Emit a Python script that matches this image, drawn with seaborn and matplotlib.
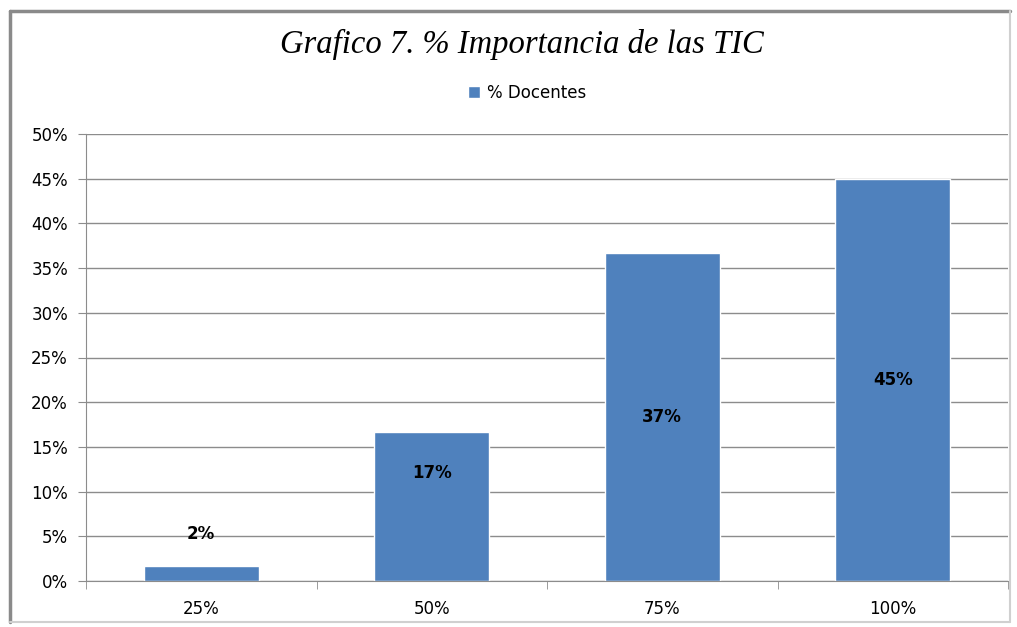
import pandas as pd
import matplotlib.pyplot as plt
from matplotlib.lines import Line2D
from matplotlib.ticker import FuncFormatter, FixedLocator
import seaborn as sns

# Chart data
categorias = ['25%', '50%', '75%', '100%']
docentes = [1.7, 16.7, 36.7, 45.0]
etiquetas = ['2%', '17%', '37%', '45%']

df = pd.DataFrame({'Importancia': categorias, '% Docentes': docentes})

sns.set_style('white')
plt.rcParams['font.family'] = ['DejaVu Sans']
plt.rcParams['text.color'] = 'black'

fig = plt.figure(figsize=(10.17, 6.27), dpi=100)
ax = fig.add_axes([86 / 1017, 1 - 581 / 627, (1008 - 86) / 1017, (581 - 134) / 627])

sns.barplot(data=df, x='Importancia', y='% Docentes', color='#4F81BD',
            width=0.5, saturation=1, ax=ax, label='% Docentes')

ax.set_ylim(0, 50)
ax.set_xlim(-0.5, len(categorias) - 0.5)
ax.yaxis.set_major_locator(FixedLocator(range(0, 51, 5)))
ax.yaxis.set_major_formatter(FuncFormatter(lambda v, p: f'{v:.0f}%'))
ax.grid(axis='y', color='#8c8c8c', linewidth=1)
ax.set_axisbelow(True)
ax.set_xlabel('')
ax.set_ylabel('')

for s in ['top', 'right']:
    ax.spines[s].set_visible(False)
ax.spines['left'].set_color('#8c8c8c')
ax.spines['bottom'].set_color('#8c8c8c')

ax.tick_params(axis='y', length=6, color='#8c8c8c', labelcolor='black',
               labelsize=12, pad=7, left=True)
ax.tick_params(axis='x', which='major', length=0, labelcolor='black', labelsize=12, pad=14)
ax.set_xticks([i - 0.5 for i in range(len(categorias) + 1)], minor=True)
ax.tick_params(axis='x', which='minor', length=6, color='#8c8c8c', bottom=True)

# data labels
for i, (v, t) in enumerate(zip(docentes, etiquetas)):
    if v < 5:
        y = v + 3.6
    elif v < 20:
        y = v - 4.6
    else:
        y = v / 2
    ax.text(i, y, t, ha='center', va='center', fontsize=12, fontweight='bold', color='black')

# legend
ax.legend(loc='center', bbox_to_anchor=(527 / 1017, 1 - 93 / 627),
          bbox_transform=fig.transFigure, frameon=False, fontsize=12,
          handlelength=0.75, handleheight=0.75, handletextpad=0.4)

fig.text(522 / 1017, 1 - 44 / 627, 'Grafico 7. % Importancia de las TIC',
         ha='center', va='center', fontsize=23.5, style='italic', color='black',
         family=['Liberation Serif', 'DejaVu Serif'])

# chart frame: darker top/left, lighter bottom/right
x0, x1 = 9.5 / 1017, 1010 / 1017
y0, y1 = 1 - 622 / 627, 1 - 10.5 / 627
fig.add_artist(Line2D([x0, x1], [y1, y1], transform=fig.transFigure, color='#8a8a8a', lw=2.5))
fig.add_artist(Line2D([x0, x0], [y0, y1], transform=fig.transFigure, color='#8a8a8a', lw=2.5))
fig.add_artist(Line2D([x0, x1], [y0, y0], transform=fig.transFigure, color='#d0d0d0', lw=1.5))
fig.add_artist(Line2D([x1, x1], [y0, y1], transform=fig.transFigure, color='#d0d0d0', lw=1.5))

plt.savefig('out.png', dpi=100)
